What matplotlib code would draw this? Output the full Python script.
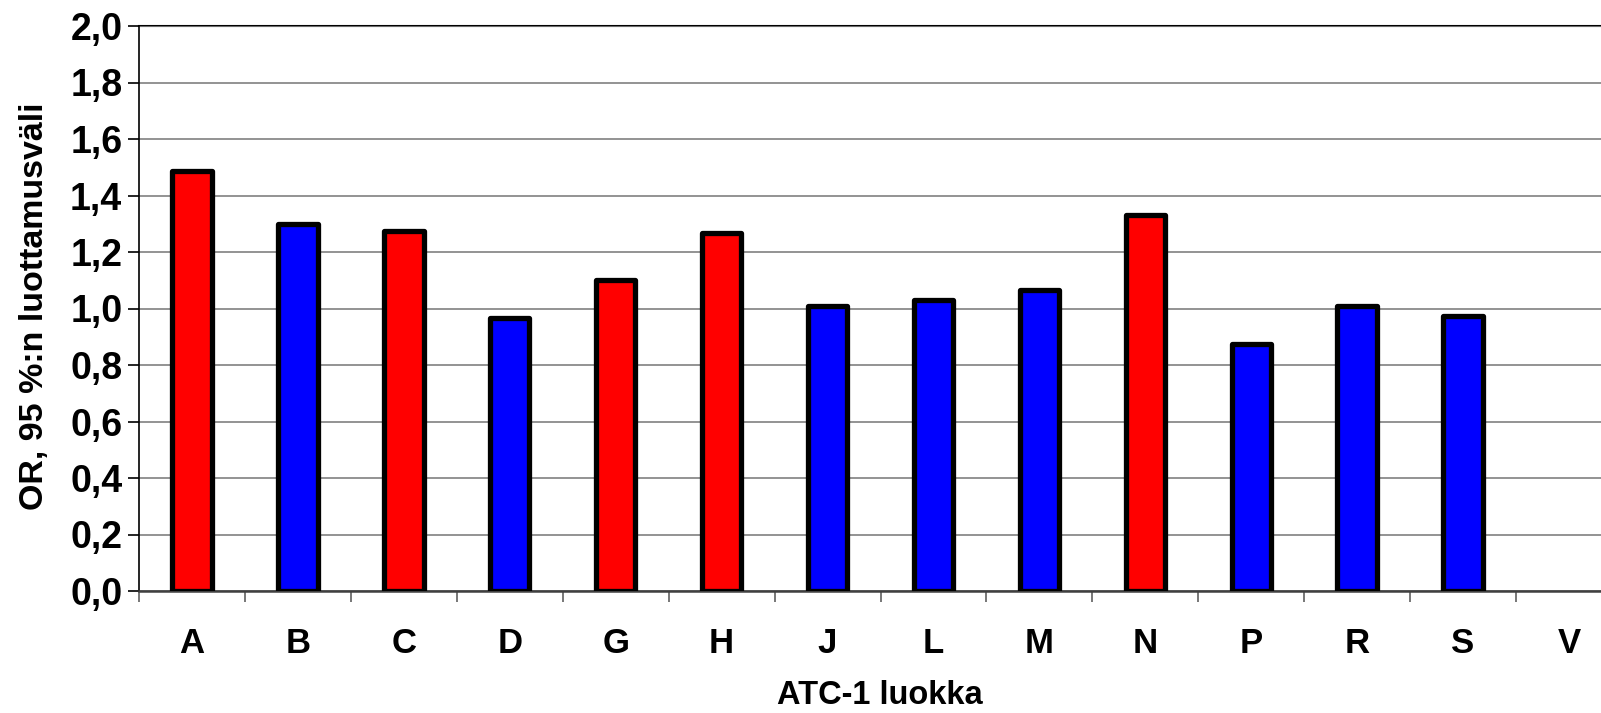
import numpy as np
import matplotlib
matplotlib.use("Agg")
import matplotlib.pyplot as plt
from matplotlib.ticker import FixedLocator, FuncFormatter

categories = ["A", "B", "C", "D", "G", "H", "J", "L", "M", "N", "P", "R", "S", "V"]
or_values = [1.485, 1.30, 1.275, 0.965, 1.10, 1.267, 1.01, 1.03, 1.065, 1.33, 0.873, 1.01, 0.973, np.nan]
significant = [True, False, True, False, True, True, False, False, False, True, False, False, False, False]
y_ticks = [0.0, 0.2, 0.4, 0.6, 0.8, 1.0, 1.2, 1.4, 1.6, 1.8, 2.0]

plt.rcParams['font.family'] = ['Liberation Sans', 'DejaVu Sans']

fig = plt.figure(figsize=(16.01, 7.13), dpi=100)
ax = fig.add_axes([139/1601, (713-591)/713, 1483/1601, 565/713])

x = np.arange(len(categories))
colors = ['#FF0000' if s else '#0000FF' for s in significant]
heights = np.array(or_values, dtype=float)
ax.bar(x, heights, width=0.372, color=colors, edgecolor='black', linewidth=3.8,
       joinstyle='round', zorder=3)

ax.set_xlim(-0.5, len(categories) - 0.5)
ax.set_ylim(0, 2.0)

ax.yaxis.set_major_locator(FixedLocator(y_ticks))
ax.yaxis.set_major_formatter(FuncFormatter(lambda v, p: f"{v:.1f}".replace('.', ',')))
ax.grid(axis='y', color='#808080', linewidth=1.2, zorder=0)
ax.axhline(2.0, color='black', linewidth=1.5, zorder=1, clip_on=False)

ax.set_xticks(x)
ax.set_xticklabels(categories)
ax.xaxis.set_minor_locator(FixedLocator(np.arange(-0.5, len(categories), 1.0)))
ax.tick_params(axis='x', which='major', length=0, pad=26, labelsize=25)
ax.tick_params(axis='x', which='minor', length=8, width=1.2, color='#606060', direction='out')
ax.tick_params(axis='y', which='major', length=8, width=1.2, direction='out', labelsize=27, pad=4)
for lab in ax.get_xticklabels() + ax.get_yticklabels():
    lab.set_fontweight('bold')

ax.spines['top'].set_visible(False)
ax.spines['right'].set_visible(False)
ax.spines['left'].set_color('black')
ax.spines['left'].set_linewidth(1.2)
ax.spines['bottom'].set_color('#404040')
ax.spines['bottom'].set_linewidth(1.8)

ax.set_ylabel("OR, 95 %:n luottamusväli", fontsize=24.5, fontweight='bold')
ax.yaxis.set_label_coords(-(139 - 50) / 1483, (591 - 306) / 565)
ax.set_xlabel("ATC-1 luokka", fontsize=23.5, fontweight='bold')
ax.xaxis.set_label_coords((880 - 139) / 1483, -(680 - 591) / 565)

fig.savefig("out.png", dpi=100)
